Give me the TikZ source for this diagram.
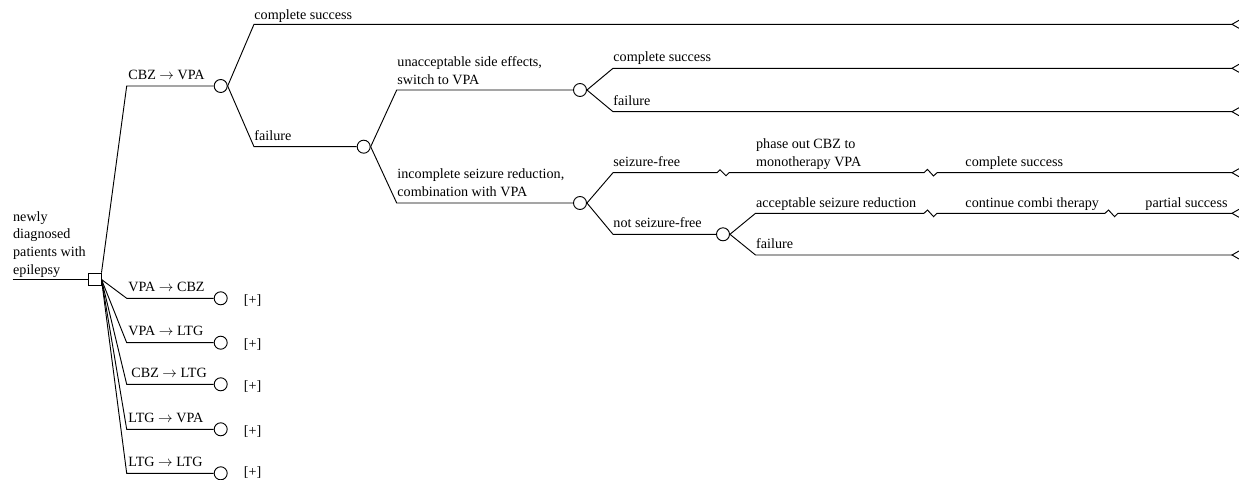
\documentclass[tikz,border=0pt]{standalone}
\usepackage{fontspec}
\setmainfont{Liberation Serif}
\begin{document}
\begin{tikzpicture}[x=0.75pt,y=-0.75pt,line width=0.7pt,
  chance/.style={draw,circle,fill=white,minimum size=9.75pt,inner sep=0pt},
  decision/.style={draw,rectangle,fill=white,minimum size=9.5pt,inner sep=0pt},
  lbl/.style={anchor=base west,inner sep=0pt,font=\fontsize{10.6}{13.4}\selectfont,align=left},
  plus/.style={anchor=west,inner sep=0pt,font=\fontsize{10.6}{13.4}\selectfont},
  endmark/.pic={\draw (7,-4) -- (0,0) -- (7,4);}]
\useasboundingbox (0,0) rectangle (1239,479);

% root
\node[decision] (root) at (94.7,279.5) {};
\coordinate (r0) at (12.5,279.5);
\draw (r0) -- (root.west);
\node[lbl] (rootlbl) at (12.7,274.7) {newly\\diagnosed\\patients with\\epilepsy};

% CBZ -> VPA
\coordinate (a1) at (126.7,86);
\node[chance] (A) at (220.7,86) {};
\draw (root.north east) -- (a1) -- (A.west);
\node[lbl] (lA) at (128,79.5) {CBZ $\rightarrow$ VPA};

% complete success (top)
\coordinate (b1) at (254,24.3);
\coordinate (e1) at (1232,24.3);
\draw (A.east) -- (b1) -- (e1);
\pic at (e1) {endmark};
\node[lbl] (lb1) at (254,19) {complete success};

% failure
\coordinate (b2) at (254,146.7);
\node[chance] (B) at (363.7,146.7) {};
\draw (A.east) -- (b2) -- (B.west);
\node[lbl] (lb2) at (254,140.5) {failure};

% unacceptable side effects
\coordinate (c1) at (396.7,90);
\node[chance] (C) at (580,90) {};
\draw (B.east) -- (c1) -- (C.west);
\node[lbl] (lc1) at (397,84.7) {unacceptable side effects,\\switch to VPA};

% incomplete seizure reduction
\coordinate (c2) at (396.7,203);
\node[chance] (D) at (580,203) {};
\draw (B.east) -- (c2) -- (D.west);
\node[lbl] (lc2) at (397,196.7) {incomplete seizure reduction,\\combination with VPA};

% from C
\coordinate (d1) at (613,68.3);
\coordinate (e2) at (1232,68.3);
\draw (C.east) -- (d1) -- (e2);
\pic at (e2) {endmark};
\node[lbl] (ld1) at (613,61.5) {complete success};

\coordinate (d2) at (613,111.7);
\coordinate (e3) at (1232,111.7);
\draw (C.east) -- (d2) -- (e3);
\pic at (e3) {endmark};
\node[lbl] (ld2) at (613,105) {failure};

% from D: seizure-free
\coordinate (d3) at (613,172.7);
\coordinate (z1) at (717,172.7);
\coordinate (z2) at (924,172.7);
\coordinate (e4) at (1232,172.7);
\draw (D.east) -- (d3) -- (z1) -- ++(3,-3) -- ++(6,6) -- ++(3,-3)
      -- (z2) -- ++(3.5,-3.3) -- ++(6,6.6) -- ++(3.5,-3.3) -- (e4);
\pic at (e4) {endmark};
\node[lbl] (ld3) at (613,166) {seizure-free};
\node[lbl] (lz1) at (755.7,166.7) {phase out CBZ to\\monotherapy VPA};
\node[lbl] (lz2) at (965,166) {complete success};

% not seizure-free
\coordinate (d4) at (613,234.3);
\node[chance] (E) at (723,234.3) {};
\draw (D.east) -- (d4) -- (E.west);
\node[lbl] (ld4) at (613,227.5) {not seizure-free};

% from E
\coordinate (f1) at (755.5,213.3);
\coordinate (z3) at (924,213.3);
\coordinate (z4) at (1105,213.3);
\coordinate (e5) at (1232,213.3);
\draw (E.east) -- (f1) -- (z3) -- ++(3.5,-3.3) -- ++(6,6.6) -- ++(3.5,-3.3)
      -- (z4) -- ++(3.5,-3.3) -- ++(6,6.6) -- ++(3.5,-3.3) -- (e5);
\pic at (e5) {endmark};
\node[lbl] (lf1) at (755.7,207) {acceptable seizure reduction};
\node[lbl] (lz3) at (965,207) {continue combi therapy};
\node[lbl] (lz4) at (1145,207) {partial success};

\coordinate (f2) at (755.5,255);
\coordinate (e6) at (1232,255);
\draw (E.east) -- (f2) -- (e6);
\pic at (e6) {endmark};
\node[lbl] (lf2) at (755.7,248.5) {failure};

% lower strategies
\foreach \n/\y/\t/\lx/\py in {1/298.3/{VPA $\rightarrow$ CBZ}/128/300.3,
                          2/342.7/{VPA $\rightarrow$ LTG}/128/344.7,
                          3/384.3/{CBZ $\rightarrow$ LTG}/131/386.3,
                          4/429.3/{LTG $\rightarrow$ VPA}/128/431.3,
                          5/473.3/{LTG $\rightarrow$ LTG}/128/472.2}{
  \coordinate (g\n) at (126.7,\y);
  \node[chance] (G\n) at (220.7,\y) {};
  \draw (root.east) -- (g\n) -- (G\n.west);
  \node[lbl] (lg\n) at (\lx,\y-7) {\t};
  \node[plus] (p\n) at (243.5,\py) {[+]};
}
\end{tikzpicture}
\end{document}
